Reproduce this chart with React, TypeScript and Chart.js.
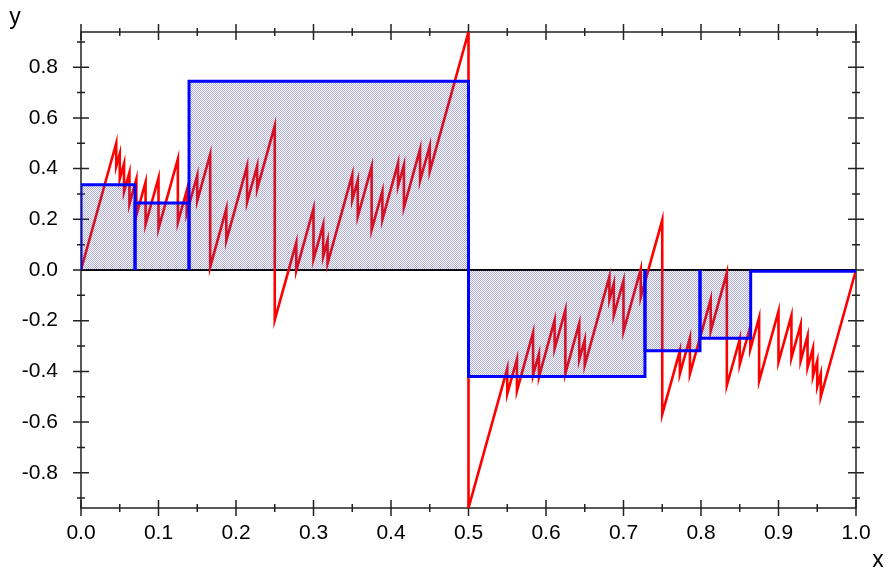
import { useEffect, useRef } from 'react';
import { Chart, registerables } from 'chart.js';

Chart.register(...registerables);

// Red curve vertices (x, y)
const X_RED = [
  0,
  0.04545, 0.04545, 0.05, 0.05, 0.05556, 0.05556, 0.0625, 0.0625, 0.07143, 0.07143,
  0.08333, 0.08333, 0.1, 0.1, 0.125, 0.125, 0.13636, 0.13636, 0.15, 0.15,
  0.16667, 0.16667, 0.1875, 0.1875, 0.21429, 0.21429, 0.22727, 0.22727, 0.25, 0.25,
  0.27778, 0.27778, 0.3, 0.3, 0.3125, 0.3125, 0.31818, 0.31818, 0.35, 0.35,
  0.35714, 0.35714, 0.375, 0.375, 0.38889, 0.38889, 0.40909, 0.40909, 0.41667, 0.41667,
  0.4375, 0.4375, 0.45, 0.45, 0.5, 0.5,
  0.55, 0.55, 0.5625, 0.5625, 0.58333, 0.58333, 0.59091, 0.59091, 0.61111, 0.61111,
  0.625, 0.625, 0.64286, 0.64286, 0.65, 0.65, 0.68182, 0.68182, 0.6875, 0.6875,
  0.7, 0.7, 0.72222, 0.72222, 0.75, 0.75, 0.77273, 0.77273, 0.78571, 0.78571,
  0.8125, 0.8125, 0.83333, 0.83333, 0.85, 0.85, 0.86364, 0.86364, 0.875, 0.875,
  0.9, 0.9, 0.91667, 0.91667, 0.92857, 0.92857, 0.9375, 0.9375, 0.94444, 0.94444,
  0.95, 0.95, 0.95455, 0.95455,
  1,
];
const Y_RED = [
  0,
  0.5, 0.409, 0.459, 0.359, 0.42, 0.309, 0.385, 0.26, 0.359, 0.216,
  0.347, 0.18, 0.363, 0.163, 0.438, 0.188, 0.313, 0.223, 0.373, 0.273,
  0.456, 0.011, 0.241, 0.116, 0.41, 0.267, 0.41, 0.319, 0.569, -0.197,
  0.108, -0.003, 0.242, 0.042, 0.179, 0.054, 0.117, 0.026, 0.376, 0.276,
  0.354, 0.211, 0.408, 0.158, 0.311, 0.199, 0.422, 0.331, 0.414, 0.247,
  0.477, 0.352, 0.489, 0.389, 0.939, -0.939,
  -0.389, -0.489, -0.352, -0.477, -0.247, -0.414, -0.331, -0.422, -0.199, -0.311,
  -0.158, -0.408, -0.211, -0.354, -0.276, -0.376, -0.026, -0.117, -0.054, -0.179,
  -0.042, -0.242, 0.003, -0.108, 0.197, -0.569, -0.319, -0.41, -0.267, -0.41,
  -0.116, -0.241, -0.011, -0.456, -0.273, -0.373, -0.223, -0.313, -0.188, -0.438,
  -0.163, -0.363, -0.18, -0.347, -0.216, -0.359, -0.26, -0.385, -0.309, -0.42,
  -0.359, -0.459, -0.409, -0.5,
  0,
];

// Riemann-sum rectangles
const RECT_EDGES = [0, 0.0697, 0.1394, 0.5, 0.7277, 0.7987, 0.8641, 1];
const RECT_HEIGHTS = [0.336, 0.264, 0.745, -0.42, -0.319, -0.269, -0.005];

// Axes
const X_MIN = 0;
const X_MAX = 1;
const Y_MIN = -0.939;
const Y_MAX = 0.939;
const X_MAJOR = [0, 0.1, 0.2, 0.3, 0.4, 0.5, 0.6, 0.7, 0.8, 0.9, 1.0];
const X_MINOR = [0.05, 0.15, 0.25, 0.35, 0.45, 0.55, 0.65, 0.75, 0.85, 0.95];
const Y_MAJOR = [-0.8, -0.6, -0.4, -0.2, 0, 0.2, 0.4, 0.6, 0.8];
const Y_MINOR = [-0.9, -0.7, -0.5, -0.3, -0.1, 0.1, 0.3, 0.5, 0.7, 0.9];
const X_TITLE = 'x';
const Y_TITLE = 'y';

const FONT = 'Liberation Sans, Arial, sans-serif';

const boxPlugin = {
  id: 'boxTicks',
  beforeDatasetsDraw(chart: any) {
    const { ctx, chartArea: a, scales } = chart;
    const xs = scales.x;
    const ys = scales.y;
    ctx.save();
    ctx.strokeStyle = '#222222';
    ctx.lineWidth = 1.5;
    ctx.strokeRect(a.left, a.top, a.right - a.left, a.bottom - a.top);
    ctx.beginPath();
    const hx = (v: number, len: number) => {
      const p = xs.getPixelForValue(v);
      ctx.moveTo(p, a.bottom - len);
      ctx.lineTo(p, a.bottom + len);
      ctx.moveTo(p, a.top - len);
      ctx.lineTo(p, a.top + len);
    };
    const hy = (v: number, len: number) => {
      const p = ys.getPixelForValue(v);
      ctx.moveTo(a.left - len, p);
      ctx.lineTo(a.left + len, p);
      ctx.moveTo(a.right - len, p);
      ctx.lineTo(a.right + len, p);
    };
    X_MAJOR.forEach((v) => hx(v, 8));
    X_MINOR.forEach((v) => hx(v, 4));
    Y_MAJOR.forEach((v) => hy(v, 8));
    Y_MINOR.forEach((v) => hy(v, 4));
    ctx.stroke();
    ctx.restore();
  },
  afterDraw(chart: any) {
    const { ctx } = chart;
    ctx.save();
    ctx.fillStyle = '#000';
    ctx.font = '23px ' + FONT;
    ctx.textAlign = 'center';
    ctx.textBaseline = 'middle';
    ctx.fillText(Y_TITLE, 15, 18);
    ctx.fillText(X_TITLE, 878, 561);
    ctx.restore();
  },
};

export default function App() {
  const ref = useRef<HTMLCanvasElement>(null);

  useEffect(() => {
    const canvas = ref.current!;
    const ctx = canvas.getContext('2d')!;
    const tile = document.createElement('canvas');
    tile.width = 2;
    tile.height = 2;
    const tg = tile.getContext('2d')!;
    tg.fillStyle = 'rgba(70,70,160,0.42)';
    tg.fillRect(0, 0, 1, 1);
    tg.fillRect(1, 1, 1, 1);
    tg.fillStyle = 'rgba(70,70,160,0.04)';
    tg.fillRect(1, 0, 1, 1);
    tg.fillRect(0, 1, 1, 1);
    const pattern = ctx.createPattern(tile, 'repeat');

    const rectSets = RECT_HEIGHTS.map((h, i) => ({
      data: [
        { x: RECT_EDGES[i], y: 0 },
        { x: RECT_EDGES[i], y: h },
        { x: RECT_EDGES[i + 1], y: h },
        { x: RECT_EDGES[i + 1], y: 0 },
      ],
      borderColor: '#0000ff',
      borderWidth: 3,
      backgroundColor: pattern,
      fill: 'origin',
      pointRadius: 0,
      tension: 0,
      order: 1,
    }));

    const chart = new Chart(canvas, {
      type: 'line',
      data: {
        datasets: [
          ...rectSets,
          {
            data: X_RED.map((x, i) => ({ x, y: Y_RED[i] })),
            borderColor: '#ff0000',
            borderWidth: 2.6,
            pointRadius: 0,
            tension: 0,
            fill: false,
            order: 2,
          },
          {
            data: [
              { x: X_MIN, y: 0 },
              { x: X_MAX, y: 0 },
            ],
            borderColor: '#000000',
            borderWidth: 2,
            pointRadius: 0,
            fill: false,
            order: 3,
          },
        ] as any,
      },
      options: {
        animation: false,
        responsive: false,
        devicePixelRatio: 1,
        layout: { padding: { top: 32, right: 32, left: 0, bottom: 0 } },
        plugins: { legend: { display: false }, tooltip: { enabled: false } },
        scales: {
          x: {
            type: 'linear',
            min: X_MIN,
            max: X_MAX,
            grid: { display: false },
            border: { display: false },
            afterBuildTicks: (s: any) => {
              s.ticks = X_MAJOR.map((v) => ({ value: v }));
            },
            afterFit: (s: any) => {
              s.height = 67;
            },
            ticks: {
              autoSkip: false,
              maxRotation: 0,
              padding: 5,
              color: '#000',
              font: { family: FONT, size: 21 },
              callback: (v: any) => Number(v).toFixed(1),
            },
          },
          y: {
            type: 'linear',
            min: Y_MIN,
            max: Y_MAX,
            grid: { display: false },
            border: { display: false },
            afterBuildTicks: (s: any) => {
              s.ticks = Y_MAJOR.map((v) => ({ value: v }));
            },
            afterFit: (s: any) => {
              s.width = 81;
            },
            ticks: {
              padding: 15,
              color: '#000',
              font: { family: FONT, size: 21 },
              callback: (v: any) => Number(v).toFixed(1),
            },
          },
        },
      } as any,
      plugins: [boxPlugin],
    });
    return () => chart.destroy();
  }, []);

  return (
    <div style={{ position: 'fixed', left: 0, top: 0, width: 888, height: 575, background: '#fff' }}>
      <canvas ref={ref} width={888} height={575} />
    </div>
  );
}
